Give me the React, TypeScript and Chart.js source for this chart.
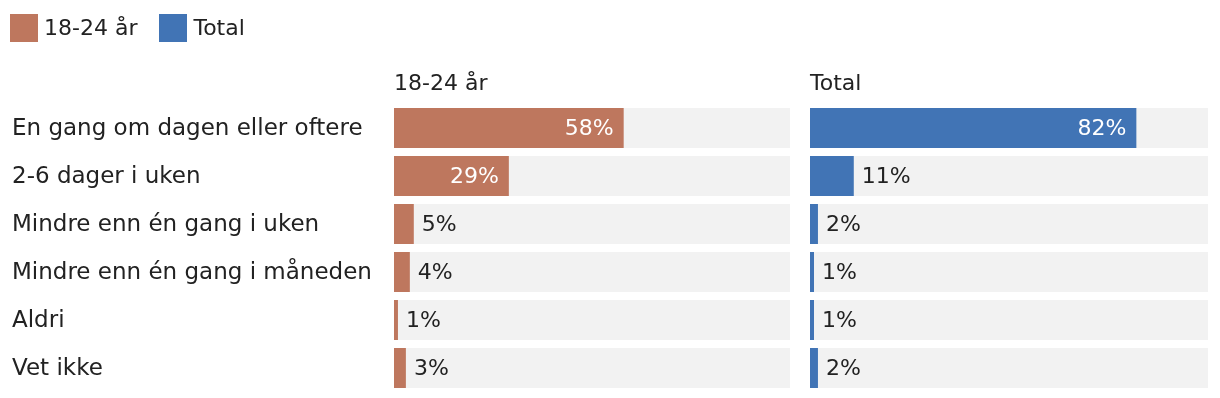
import React, { useEffect, useRef } from "react";
import { Chart, registerables } from "chart.js";

Chart.register(...registerables);

const CATEGORIES = [
  "En gang om dagen eller oftere",
  "2-6 dager i uken",
  "Mindre enn én gang i uken",
  "Mindre enn én gang i måneden",
  "Aldri",
  "Vet ikke",
];
const SERIES_NAMES = ["18-24 år", "Total"];
const VALUES_YOUNG = [58, 29, 5, 4, 1, 3];
const VALUES_TOTAL = [82, 11, 2, 1, 1, 2];
const TRACK = CATEGORIES.map(() => 100);

const COLORS = ["#be775e", "#4174b5"];
const TRACK_COLOR = "#f2f2f2";
const TEXT_COLOR = "#222222";
const FONT = "'DejaVu Sans', sans-serif";
const FONT_SIZE = 22;
const CATEGORY_FONT_SIZE = 23;

const valueLabels = {
  id: "valueLabels",
  afterDatasetsDraw(chart: any) {
    const ctx = chart.ctx;
    chart.data.datasets.forEach((ds: any, i: number) => {
      if (!ds.showValues) return;
      const meta = chart.getDatasetMeta(i);
      meta.data.forEach((bar: any, j: number) => {
        const text = ds.data[j] + "%";
        ctx.save();
        ctx.font = `${FONT_SIZE}px ${FONT}`;
        ctx.textBaseline = "middle";
        const w = ctx.measureText(text).width;
        const barW = bar.x - bar.base;
        if (barW > w + 24) {
          ctx.fillStyle = "#ffffff";
          ctx.textAlign = "right";
          ctx.fillText(text, bar.x - 10, bar.y + 1);
        } else {
          ctx.fillStyle = TEXT_COLOR;
          ctx.textAlign = "left";
          ctx.fillText(text, bar.x + 8, bar.y + 1);
        }
        ctx.restore();
      });
    });
  },
};

export default function App() {
  const ref = useRef<HTMLCanvasElement>(null);

  useEffect(() => {
    if (!ref.current) return;
    const chart = new Chart(ref.current, {
      type: "bar",
      data: {
        labels: CATEGORIES,
        datasets: [
          {
            label: SERIES_NAMES[0],
            data: VALUES_YOUNG,
            xAxisID: "x1",
            backgroundColor: COLORS[0],
            order: 0,
            showValues: true,
          } as any,
          {
            label: SERIES_NAMES[1],
            data: VALUES_TOTAL,
            xAxisID: "x2",
            backgroundColor: COLORS[1],
            order: 0,
            showValues: true,
          } as any,
          {
            label: "track1",
            data: TRACK,
            xAxisID: "x1",
            backgroundColor: TRACK_COLOR,
            order: 1,
          },
          {
            label: "track2",
            data: TRACK,
            xAxisID: "x2",
            backgroundColor: TRACK_COLOR,
            order: 1,
          },
        ],
      },
      options: {
        indexAxis: "y",
        responsive: false,
        animation: false,
        datasets: {
          bar: {
            grouped: false,
            barPercentage: 40 / 48,
            categoryPercentage: 1,
            borderWidth: 0,
          },
        },
        layout: { padding: { top: 70.8, left: 12, right: 12, bottom: 6 } },
        plugins: {
          legend: { display: false },
          tooltip: { enabled: false },
          title: { display: false },
        },
        scales: {
          y: {
            type: "category",
            position: "left",
            grid: { display: false, drawTicks: false },
            border: { display: false },
            ticks: {
              crossAlign: "far",
              color: TEXT_COLOR,
              padding: 0,
              labelOffset: 1.5,
              font: { family: FONT, size: CATEGORY_FONT_SIZE },
            },
            afterFit: (s: any) => {
              s.width = 382;
              s.paddingTop = 0;
              s.paddingBottom = 0;
            },
          },
          x1: {
            type: "linear",
            position: "top",
            stack: "panels",
            stackWeight: 416,
            weight: 1,
            min: 0,
            max: (100 * 416) / 396,
            grid: { display: false, drawTicks: false },
            border: { display: false },
            ticks: { display: false },
            title: {
              display: true,
              text: SERIES_NAMES[0],
              align: "start",
              color: TEXT_COLOR,
              font: { family: FONT, size: FONT_SIZE },
              padding: { top: 0, bottom: 6.8 },
            },
          },
          x2: {
            type: "linear",
            position: "top",
            stack: "panels",
            stackWeight: 398,
            weight: 0,
            min: 0,
            max: 100,
            grid: { display: false, drawTicks: false },
            border: { display: false },
            ticks: { display: false },
            title: {
              display: true,
              text: SERIES_NAMES[1],
              align: "start",
              color: TEXT_COLOR,
              font: { family: FONT, size: FONT_SIZE },
              padding: { top: 0, bottom: 6.8 },
            },
          },
        } as any,
      },
      plugins: [valueLabels],
    });
    return () => chart.destroy();
  }, []);

  const legendItem = (name: string, color: string) => (
    <div key={name} style={{ display: "flex", alignItems: "center", marginRight: 22 }}>
      <span style={{ display: "inline-block", width: 28, height: 28, background: color, marginRight: 6 }} />
      <span style={{ fontFamily: FONT, fontSize: FONT_SIZE, color: TEXT_COLOR, lineHeight: "28px" }}>{name}</span>
    </div>
  );

  return (
    <div style={{ position: "absolute", left: 0, top: 0, width: 1220, height: 398, background: "#fff" }}>
      <div style={{ position: "absolute", left: 10, top: 14, display: "flex" }}>
        {SERIES_NAMES.map((n, i) => legendItem(n, COLORS[i]))}
      </div>
      <canvas ref={ref} width={1220} height={398} style={{ display: "block" }} />
    </div>
  );
}
